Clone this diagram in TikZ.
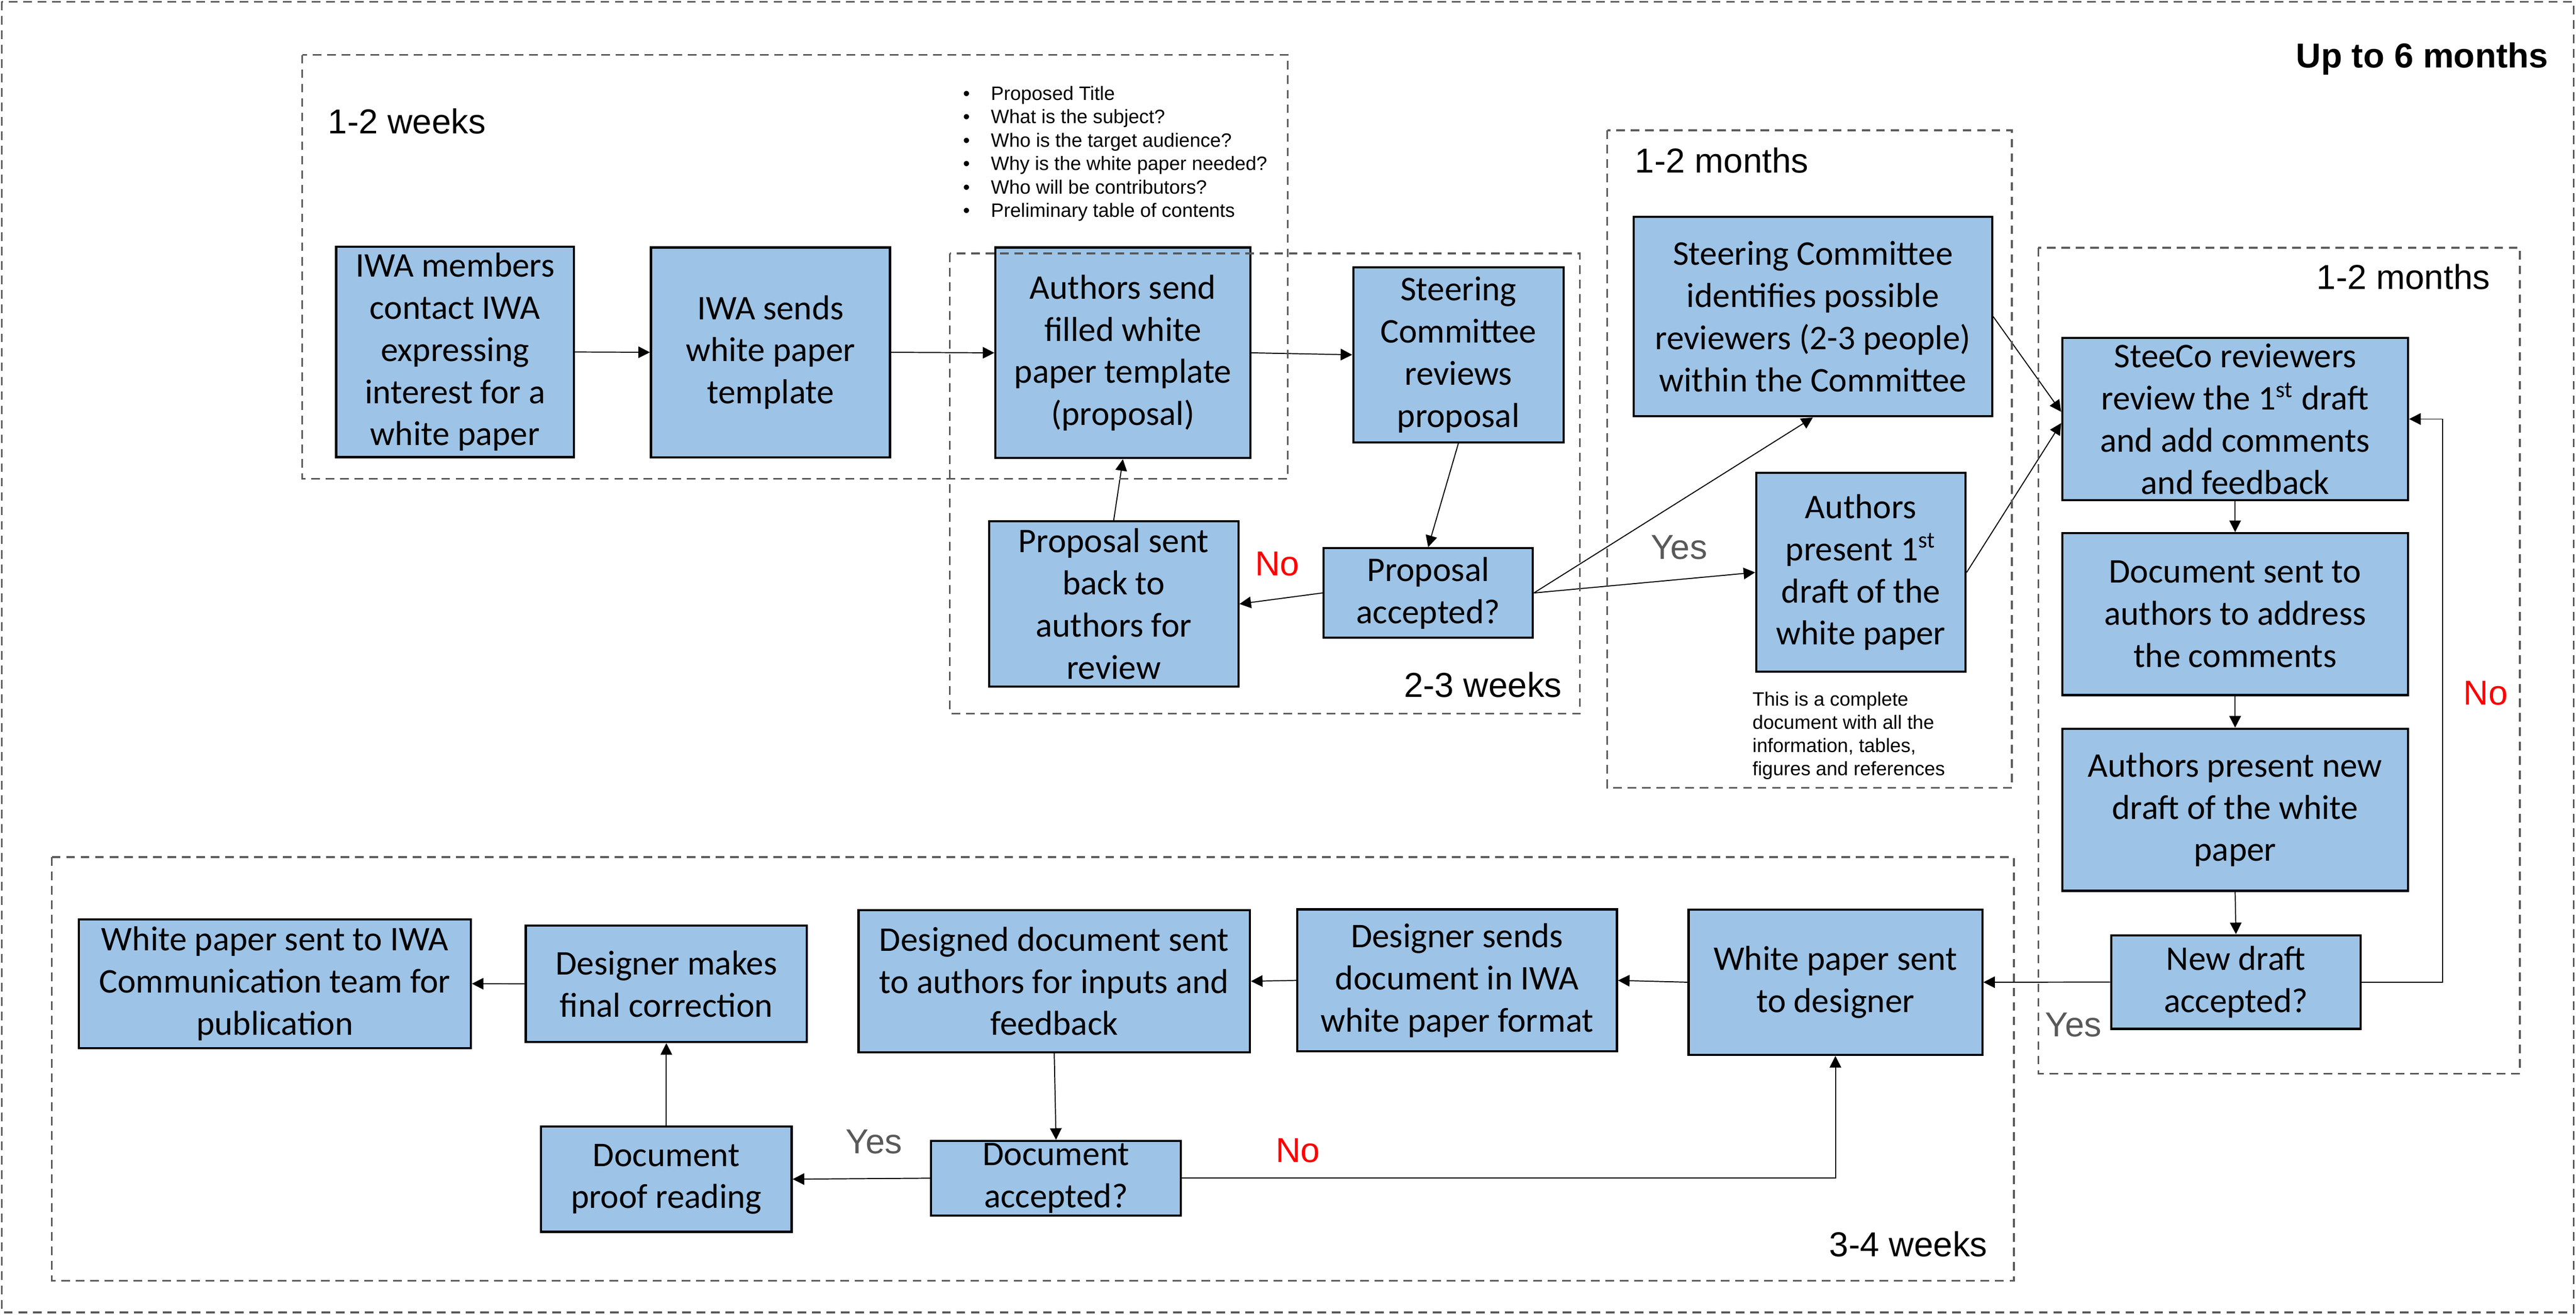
\documentclass[tikz,border=0pt]{standalone}
\usepackage{fontspec}
\setmainfont{Carlito}
\newfontfamily\arialfont{Liberation Sans}
\usepackage{xcolor}
\usepackage{tikz}
\usetikzlibrary{arrows.meta,calc}

\definecolor{boxblue}{RGB}{157,195,230}
\definecolor{dashgray}{RGB}{89,89,89}

\tikzset{
  stepbox/.style={draw, line width=0.75pt, fill=boxblue, align=center, inner sep=0pt,
    font=\fontsize{12}{14.6}\selectfont},
  boxsize/.style 2 args={minimum width=#1*0.02cm, minimum height=#2*0.02cm},
  phasebox/.style={draw=dashgray, line width=0.6pt, dash pattern=on 3pt off 2pt},
  phaselabel/.style={inner sep=0pt, font=\arialfont\fontsize{12}{14}\selectfont},
  smalltext/.style={inner sep=0pt, align=left, font=\arialfont\fontsize{6.7}{8}\selectfont},
  yeslabel/.style={inner sep=0pt, text=dashgray, font=\arialfont\fontsize{12}{14}\selectfont},
  nolabel/.style={inner sep=0pt, text=red, font=\arialfont\fontsize{12}{14}\selectfont},
  flow/.style={-{Triangle[length=4pt,width=4pt]}, line width=0.35pt},
}

\begin{document}
\begin{tikzpicture}[x=0.02cm, y=-0.02cm]
\useasboundingbox (0,0) rectangle (1568,800.5);

% STEPS, 1-2 weeks
  \node[stepbox, boxsize={144.7}{128}] (contact) at (277,214.3) {IWA members\\contact IWA\\expressing\\interest for a\\white paper};
  \node[stepbox, boxsize={145.5}{127.7}] (template) at (469,214.5) {IWA sends\\white paper\\template};
  \node[stepbox, boxsize={155.2}{128.2}] (proposal) at (683.5,214.8) {Authors send\\filled white\\paper template\\(proposal)};

% STEPS, 2-3 weeks
  \node[stepbox, boxsize={127.9}{106.5}] (review) at (887.7,216) {Steering\\Committee\\reviews\\proposal};
  \node[stepbox, boxsize={127.4}{54.5}] (accepted) at (869.3,361) {Proposal\\accepted?};
  \node[stepbox, boxsize={151.8}{100.6}] (sendback) at (677.9,367.7) {Proposal sent\\back to\\authors for\\review};

% STEPS, 1-2 months
  \node[stepbox, boxsize={218.1}{121.6}] (reviewers) at (1103.5,192.7) {Steering Committee\\identifies possible\\reviewers (2-3 people)\\within the Committee};
  \node[stepbox, boxsize={127.4}{121}] (draft) at (1132.7,348.5) {Authors\\present 1\textsuperscript{st}\\draft of the\\white paper};

% STEPS, 1-2 months (SteeCo)
  \node[stepbox, boxsize={210.5}{98.6}] (steeco) at (1360.5,255.1) {SteeCo reviewers\\review the 1\textsuperscript{st} draft\\and add comments\\and feedback};
  \node[stepbox, boxsize={210.5}{98.6}] (address) at (1360.5,373.9) {Document sent to\\authors to address\\the comments};
  \node[stepbox, boxsize={210.5}{98.7}] (newdraft) at (1360.5,493) {Authors present new\\draft of the white\\paper};
  \node[stepbox, boxsize={152}{57}] (newok) at (1361,597.9) {New draft\\accepted?};

% STEPS, 3-4 weeks
  \node[stepbox, boxsize={178.8}{88.5}] (todesigner) at (1117.2,598) {White paper sent\\to designer};
  \node[stepbox, boxsize={194.6}{86.5}] (format) at (886.9,596.9) {Designer sends\\document in IWA\\white paper format};
  \node[stepbox, boxsize={238.2}{86.5}] (inputs) at (641.7,597.4) {Designed document sent\\to authors for inputs and\\feedback};
  \node[stepbox, boxsize={171.2}{70.9}] (final) at (405.6,599) {Designer makes\\final correction};
  \node[stepbox, boxsize={238.6}{78.3}] (publish) at (167.3,598.9) {White paper sent to IWA\\Communication team for\\publication};
  \node[stepbox, boxsize={152.5}{64.1}] (proof) at (405.6,717.9) {Document\\proof reading};
  \node[stepbox, boxsize={152.1}{45.4}] (docok) at (642.8,717.3) {Document\\accepted?};

% ARROWS
  \draw[flow] (contact.east) -- (template.west);
  \draw[flow] (template.east) -- (proposal.west);
  \draw[flow] (proposal.east) -- (review.west);
  \draw[flow] (review.south) -- (accepted.north);
  \draw[flow] (accepted.west) -- (sendback.east);
  \draw[flow] (sendback.north) -- (proposal.south);
  \draw[flow] (accepted.east) -- (reviewers.south);
  \draw[flow] (accepted.east) -- (draft.west);
  \coordinate (steecoin1) at ($(steeco.west)+(0,-4.4)$);
  \coordinate (steecoin2) at ($(steeco.west)+(0,2.5)$);
  \draw[flow] (reviewers.east) -- (steecoin1);
  \draw[flow] (draft.east) -- (steecoin2);
  \draw[flow] (steeco.south) -- (address.north);
  \draw[flow] (address.south) -- (newdraft.north);
  \draw[flow] (newdraft.south) -- (newok.north);
  \coordinate (noturn) at (1486.8,597.9);
  \draw[flow] (newok.east) -- (noturn) |- (steeco.east);
  \draw[flow] (newok.west) -- (todesigner.east);
  \draw[flow] (todesigner.west) -- (format.east);
  \draw[flow] (format.west) -- (inputs.east);
  \draw[flow] (inputs.south) -- (docok.north);
  \draw[flow] (docok.west) -- (proof.east);
  \draw[flow] (docok.east) -| (todesigner.south);
  \draw[flow] (proof.north) -- (final.south);
  \draw[flow] (final.west) -- (publish.east);

% YES / NO
  \node[nolabel, anchor=base] (no1) at (777.5,350.5) {No};
  \node[yeslabel, anchor=base] (yes1) at (1022,340.4) {Yes};
  \node[nolabel, anchor=base] (no2) at (1513,429) {No};
  \node[yeslabel, anchor=base] (yes2) at (1262,631) {Yes};
  \node[yeslabel, anchor=base] (yes3) at (532,702.4) {Yes};
  \node[nolabel, anchor=base] (no3) at (790,707.6) {No};

% NOTES
  \foreach \item [count=\i from 0] in {Proposed Title, What is the subject?, Who is the target audience?,
      Why is the white paper needed?, Who will be contributors?, Preliminary table of contents}
  {
    \node[smalltext, anchor=base] (dot\i) at (588.3,61+14.25*\i) {\textbullet};
    \node[smalltext, anchor=base west] (item\i) at (602.8,61+14.25*\i) {\item};
  }
  \node[smalltext, anchor=north west] (complete) at (1066.4,421) {This is a complete\\document with all the\\information, tables,\\figures and references};

% PHASES
  \draw[phasebox] (1,1) rectangle (1566.5,799);
  \draw[phasebox] (184,33.4) rectangle (783.9,291.4);
  \draw[phasebox] (578.2,154.3) rectangle (961.7,434.4);
  \draw[phasebox] (978.3,79.3) rectangle (1224.6,479.7);
  \draw[phasebox] (1240.7,150.8) rectangle (1533.8,653.6);
  \draw[phasebox] (31.6,521.8) rectangle (1225.8,779.7);

  \node[phaselabel, anchor=base east, font=\arialfont\bfseries\fontsize{12}{14}\selectfont] (total) at (1551.4,41.3) {Up to 6 months};
  \node[phaselabel, anchor=base west] (weeksA) at (199.3,81.5) {1-2 weeks};
  \node[phaselabel, anchor=base east] (weeksB) at (951,424.5) {2-3 weeks};
  \node[phaselabel, anchor=base west] (monthsC) at (995,105.2) {1-2 months};
  \node[phaselabel, anchor=base east] (monthsD) at (1516,176) {1-2 months};
  \node[phaselabel, anchor=base east] (weeksE) at (1210,765) {3-4 weeks};

\end{tikzpicture}
\end{document}
